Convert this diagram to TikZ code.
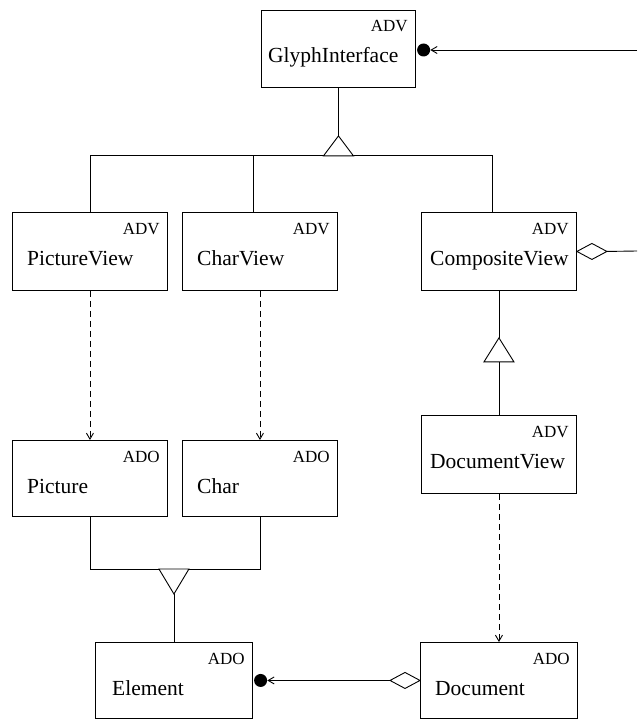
\documentclass[tikz,border=0pt]{standalone}
\usepackage{fontspec}
\setmainfont{Liberation Serif}
\usetikzlibrary{calc,arrows.meta}

\tikzset{
  umlbox/.style={draw, line width=0.9pt, inner sep=0pt},
  tagtext/.style={inner sep=0pt, font=\fontsize{17}{20}\selectfont},
  nametext/.style={inner sep=0pt, font=\fontsize{21.5}{24}\selectfont},
  rel/.style={line width=0.9pt},
  gentri/.style={line width=0.9pt, fill=white},
  dep/.style={line width=0.9pt, dash pattern=on 6pt off 4pt,
    -{Straight Barb[length=6pt,width=7pt]}},
  assoc/.style={line width=0.9pt, -{Straight Barb[length=6pt,width=7pt]}},
  refdot/.style={circle, fill=black, inner sep=0pt, minimum size=13pt},
}

% #1 name, #2 left, #3 top, #4 width, #5 height, #6 tag, #7 title, #8 title indent
\newcommand\umlclass[8]{%
  \node[umlbox, minimum width=#4pt, minimum height=#5pt, anchor=north west] (#1) at (#2,#3) {};
  \node[tagtext, anchor=base east] (#1-tag) at ($(#1.north east)+(-8,22)$) {#6};
  \node[nametext, anchor=base west] (#1-name) at ($(#1.north west)+(#8,53)$) {#7};
}

\begin{document}
\begin{tikzpicture}[x=1pt, y=-1pt]
\useasboundingbox (0,0) rectangle (637,719);

% classes
\umlclass{gi}{261}{10}{154}{77}{ADV}{GlyphInterface}{7}
\umlclass{pv}{12}{212}{155}{78}{ADV}{PictureView}{15}
\umlclass{cv}{182}{212}{155}{78}{ADV}{CharView}{15}
\umlclass{comp}{421}{212}{155}{78}{ADV}{CompositeView}{9}
\umlclass{pic}{12}{440}{155}{76}{ADO}{Picture}{15}
\umlclass{chr}{182}{440}{155}{76}{ADO}{Char}{15}
\umlclass{dv}{421}{415}{155}{78}{ADV}{DocumentView}{9}
\umlclass{el}{95}{642}{157}{76}{ADO}{Element}{17}
\umlclass{doc}{420}{642}{157}{76}{ADO}{Document}{15}

% reference into GlyphInterface from the right
\node[refdot, anchor=west] (giDot) at ($(gi.north east)+(1,40)$) {};
\coordinate (giSrc) at (637,50);
\draw[assoc] (giSrc) -- (giDot.east);

% generalization of the three views
\coordinate (giTri) at ($(gi.south)+(0,48)$);
\coordinate (busTop) at ($(giTri)+(0,20)$);
\coordinate (cvTop) at ($(cv.north)+(-7,0)$);
\coordinate (compTop) at ($(comp.north)+(-7,0)$);
\draw[rel] (gi.south) -- (giTri);
\draw[rel] (pv.north) -- (pv.north |- busTop) -- (compTop |- busTop) -- (compTop);
\draw[rel] (cvTop) -- (cvTop |- busTop);
\draw[gentri] (giTri) -- ++(-15,20) -- ++(30,0) -- cycle;

% aggregation leaving CompositeView
\coordinate (compAgg) at (comp.east);
\draw[gentri] (compAgg) -- ++(15,-8) -- ++(15,8) coordinate (compAggTip) -- ++(-15,8) -- cycle;
\coordinate (compOut) at (637,251);
\draw[rel] (compAggTip) -- (compOut);

% DocumentView specializes CompositeView
\coordinate (dvTri) at ($(comp.south)+(0,47)$);
\coordinate (dvTriBase) at ($(dvTri)+(0,24)$);
\draw[rel] (comp.south) -- (dvTri);
\draw[rel] (dvTriBase) -- (dv.north);
\draw[gentri] (dvTri) -- ++(-15,24) -- ++(30,0) -- cycle;

% views depend on their data objects
\draw[dep] (pv.south) -- (pic.north);
\draw[dep] (cv.south) -- (chr.north);
\draw[dep] (dv.south) -- (doc.north);

% Picture and Char generalize to Element
\coordinate (elTri) at ($(el.north)+(0,-48)$);
\coordinate (busBot) at ($(elTri)+(0,-25)$);
\draw[rel] (pic.south) -- (pic.south |- busBot) -- (chr.south |- busBot) -- (chr.south);
\draw[rel] (elTri) -- (el.north);
\draw[gentri] (elTri) -- ++(-15,-25) -- ++(30,0) -- cycle;

% Document aggregates Elements
\node[refdot, anchor=west] (elDot) at ($(el.east)+(1,0)$) {};
\coordinate (docAgg) at (doc.west);
\draw[gentri] (docAgg) -- ++(-15,-8) -- ++(-15,8) coordinate (docAggTip) -- ++(15,8) -- cycle;
\draw[assoc] (docAggTip) -- (elDot.east);
\end{tikzpicture}
\end{document}
